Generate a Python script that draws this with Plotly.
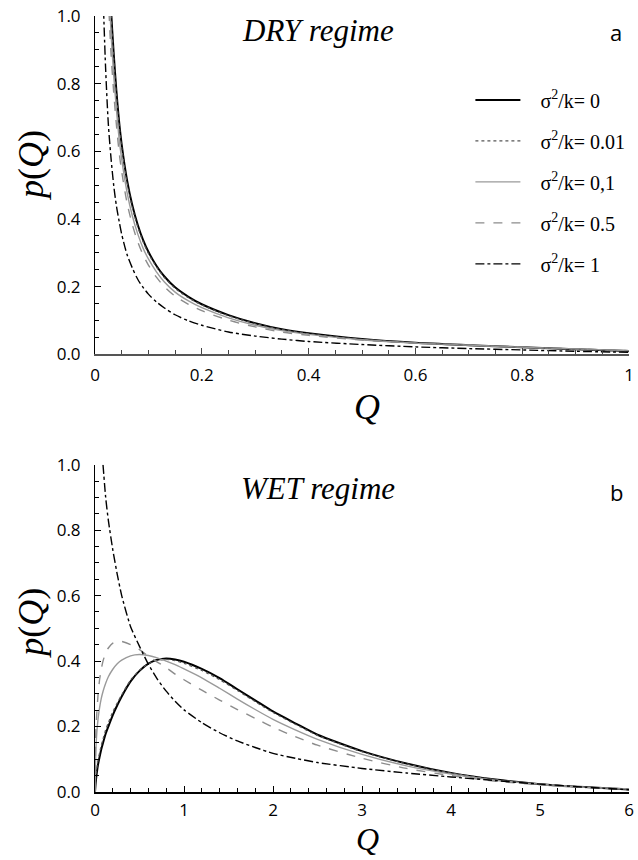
import plotly.graph_objects as go

# ---------------- DATA ----------------
series_names = ["σ<sup>2</sup>/k= 0", "σ<sup>2</sup>/k= 0.01", "σ<sup>2</sup>/k= 0,1",
                "σ<sup>2</sup>/k= 0.5", "σ<sup>2</sup>/k= 1"]

# DRY regime (panel a)
q_dry = [0.016, 0.02, 0.025, 0.03, 0.035, 0.04, 0.045, 0.05, 0.06, 0.07, 0.08, 0.09, 0.1,
         0.115, 0.13, 0.15, 0.175, 0.2, 0.25, 0.3, 0.35, 0.4, 0.5, 0.6, 0.7, 0.8, 0.9, 1.0]
dry_k0 = [1.9, 1.53, 1.22, 1.02, 0.89, 0.78, 0.69, 0.62, 0.515, 0.44, 0.383, 0.338, 0.303,
          0.262, 0.23, 0.198, 0.17, 0.148, 0.116, 0.092, 0.074, 0.062, 0.045, 0.034, 0.027,
          0.021, 0.015, 0.010]
dry_k001 = [1.87, 1.51, 1.2, 1.005, 0.877, 0.768, 0.68, 0.611, 0.507, 0.433, 0.377, 0.333,
            0.298, 0.258, 0.227, 0.195, 0.167, 0.146, 0.114, 0.091, 0.073, 0.061, 0.044,
            0.034, 0.027, 0.021, 0.015, 0.010]
dry_k01 = [1.77, 1.42, 1.135, 0.95, 0.825, 0.725, 0.64, 0.577, 0.479, 0.409, 0.356, 0.314,
           0.282, 0.244, 0.214, 0.184, 0.158, 0.138, 0.108, 0.086, 0.07, 0.059, 0.043, 0.033,
           0.027, 0.021, 0.016, 0.011]
dry_k05 = [1.65, 1.33, 1.06, 0.89, 0.775, 0.68, 0.6, 0.54, 0.448, 0.383, 0.333, 0.294,
           0.264, 0.228, 0.2, 0.172, 0.148, 0.129, 0.101, 0.081, 0.066, 0.056, 0.042, 0.033,
           0.027, 0.021, 0.016, 0.011]
dry_k1 = [1.02, 0.84, 0.68, 0.58, 0.5, 0.44, 0.395, 0.355, 0.295, 0.255, 0.222, 0.198, 0.178,
          0.155, 0.137, 0.117, 0.099, 0.086, 0.066, 0.054, 0.045, 0.038, 0.029, 0.022, 0.017,
          0.013, 0.009, 0.006]

# WET regime (panel b)
q_wet = [0, 0.01, 0.02, 0.035, 0.05, 0.07, 0.09, 0.12, 0.15, 0.2, 0.25, 0.3, 0.4, 0.5, 0.6,
         0.7, 0.8, 0.9, 1.0, 1.2, 1.4, 1.6, 1.8, 2.0, 2.25, 2.5, 3.0, 3.5, 4.0, 4.5, 5.0,
         5.5, 6.0]
wet_k0 = [0, 0.035, 0.058, 0.085, 0.105, 0.13, 0.15, 0.178, 0.2, 0.235, 0.265, 0.292, 0.338,
          0.37, 0.392, 0.404, 0.408, 0.405, 0.398, 0.376, 0.348, 0.314, 0.28, 0.246, 0.21,
          0.175, 0.125, 0.087, 0.058, 0.038, 0.024, 0.015, 0.008]
wet_k001 = [0, 0.05, 0.072, 0.098, 0.118, 0.142, 0.162, 0.19, 0.212, 0.245, 0.272, 0.297,
            0.342, 0.372, 0.392, 0.402, 0.405, 0.401, 0.393, 0.371, 0.343, 0.31, 0.276, 0.243,
            0.207, 0.173, 0.123, 0.086, 0.058, 0.038, 0.024, 0.015, 0.008]
wet_k01 = [0, 0.13, 0.18, 0.225, 0.255, 0.285, 0.307, 0.332, 0.352, 0.375, 0.392, 0.403, 0.416,
           0.42, 0.417, 0.41, 0.4, 0.389, 0.376, 0.349, 0.317, 0.284, 0.252, 0.222, 0.19,
           0.161, 0.115, 0.08, 0.055, 0.036, 0.024, 0.015, 0.009]
wet_k05 = [0, 0.19, 0.24, 0.3, 0.34, 0.375, 0.40, 0.425, 0.44, 0.455, 0.46, 0.46, 0.45, 0.435,
           0.415, 0.397, 0.38, 0.36, 0.343, 0.311, 0.281, 0.252, 0.225, 0.198, 0.169, 0.143,
           0.103, 0.072, 0.05, 0.033, 0.022, 0.014, 0.009]
wet_k1 = [None, None, None, None, None, None, 1.0, 0.9, 0.83, 0.74, 0.665, 0.6, 0.505, 0.445,
          0.39, 0.345, 0.308, 0.277, 0.251, 0.212, 0.181, 0.156, 0.136, 0.118, 0.103, 0.09,
          0.072, 0.058, 0.046, 0.035, 0.024, 0.015, 0.007]

# ---------------- STYLES ----------------
styles = [
    dict(color="#000000", width=2.0, dash="solid"),
    dict(color="#555555", width=1.2, dash="dot"),
    dict(color="#9a9a9a", width=1.4, dash="solid"),
    dict(color="#8c8c8c", width=1.4, dash="dash"),
    dict(color="#000000", width=1.4, dash="dashdot"),
]

fig = go.Figure()
dry = [dry_k0, dry_k001, dry_k01, dry_k05, dry_k1]
wet = [wet_k0, wet_k001, wet_k01, wet_k05, wet_k1]
for i, (name, ys) in enumerate(zip(series_names, dry)):
    fig.add_trace(go.Scatter(x=q_dry, y=ys, mode="lines",
                             name="\u00a0\u00a0\u00a0" + name,
                             line=dict(shape="spline", smoothing=0.8, **styles[i]),
                             xaxis="x", yaxis="y", legendgroup="g%d" % i, showlegend=True))
for i, (name, ys) in enumerate(zip(series_names, wet)):
    fig.add_trace(go.Scatter(x=q_wet, y=ys, mode="lines", name=name,
                             line=dict(shape="spline", smoothing=0.6, **styles[i]),
                             xaxis="x2", yaxis="y2", legendgroup="g%d" % i,
                             showlegend=False, connectgaps=False))

tickfont = dict(family="Open Sans", size=17, color="#000")

def yax(domain, anchor):
    return dict(domain=domain, anchor=anchor, range=[0, 1.0], dtick=0.2, tick0=0,
                tickformat=".1f", ticks="inside", ticklen=6, tickcolor="#000",
                showline=True, linecolor="#000", linewidth=1, showgrid=False,
                zeroline=False, tickfont=tickfont, ticklabelstandoff=10,
                ticklabeloverflow="allow",
                minor=dict(ticks="inside", dtick=0.05, ticklen=4, tickcolor="#000"))

fig.update_layout(
    width=638, height=860,
    margin=dict(l=95, r=4, t=12, b=68),
    paper_bgcolor="white", plot_bgcolor="white",
    xaxis=dict(domain=[0, 1], anchor="y", range=[0, 1.0], dtick=0.2, tick0=0,
               ticks="inside", ticklen=6, tickcolor="#444", showline=True,
               linecolor="#555", linewidth=2, showgrid=False, zeroline=False,
               tickfont=tickfont, ticklabelstandoff=4, ticklabeloverflow="allow",
               minor=dict(ticks="inside", dtick=0.05, ticklen=4, tickcolor="#444")),
    yaxis=yax([0.564, 1.0], "x"),
    xaxis2=dict(domain=[0, 1], anchor="y2", range=[0, 6], dtick=1, tick0=0,
                ticks="inside", ticklen=6, tickcolor="#000", showline=True,
                linecolor="#000", linewidth=1.5, showgrid=False, zeroline=False,
                tickfont=tickfont, ticklabelstandoff=2, ticklabeloverflow="allow",
                minor=dict(ticks="inside", dtick=0.2, ticklen=4, tickcolor="#000")),
    yaxis2=yax([0, 0.4218], "x2"),
    legend=dict(x=0.703, y=0.917, xanchor="left", yanchor="top",
                font=dict(family="Liberation Serif", size=20, color="#000"),
                tracegroupgap=12, bgcolor="rgba(0,0,0,0)", itemwidth=45),
    showlegend=True,
)

serif = "Liberation Serif"
def a(text, x, y, size, family=serif, angle=0):
    return dict(text=text, x=x, y=y, xref="paper", yref="paper", xanchor="center",
                yanchor="middle", textangle=angle, showarrow=False,
                font=dict(family=family, size=size, color="#000"))

ann = [
    a("<i>DRY regime</i>", 0.418, 0.981, 31),
    a("a", 0.976, 0.979, 22, family="Open Sans"),
    a("<i>WET regime</i>", 0.418, 0.391, 31),
    a("b", 0.976, 0.387, 22, family="Open Sans"),
    a("<i>p</i>(<i>Q</i>)", -0.12, 0.808, 36, angle=-90),
    a("<i>p</i>(<i>Q</i>)", -0.12, 0.218, 36, angle=-90),
    a("<i>Q</i>", 0.51, 0.496, 36),
    a("<i>Q</i>", 0.51, -0.0603, 32),
]
fig.update_layout(annotations=ann)

fig.write_html("out.html", config={"displayModeBar": False},
               post_script="document.body.style.margin='0px';")
